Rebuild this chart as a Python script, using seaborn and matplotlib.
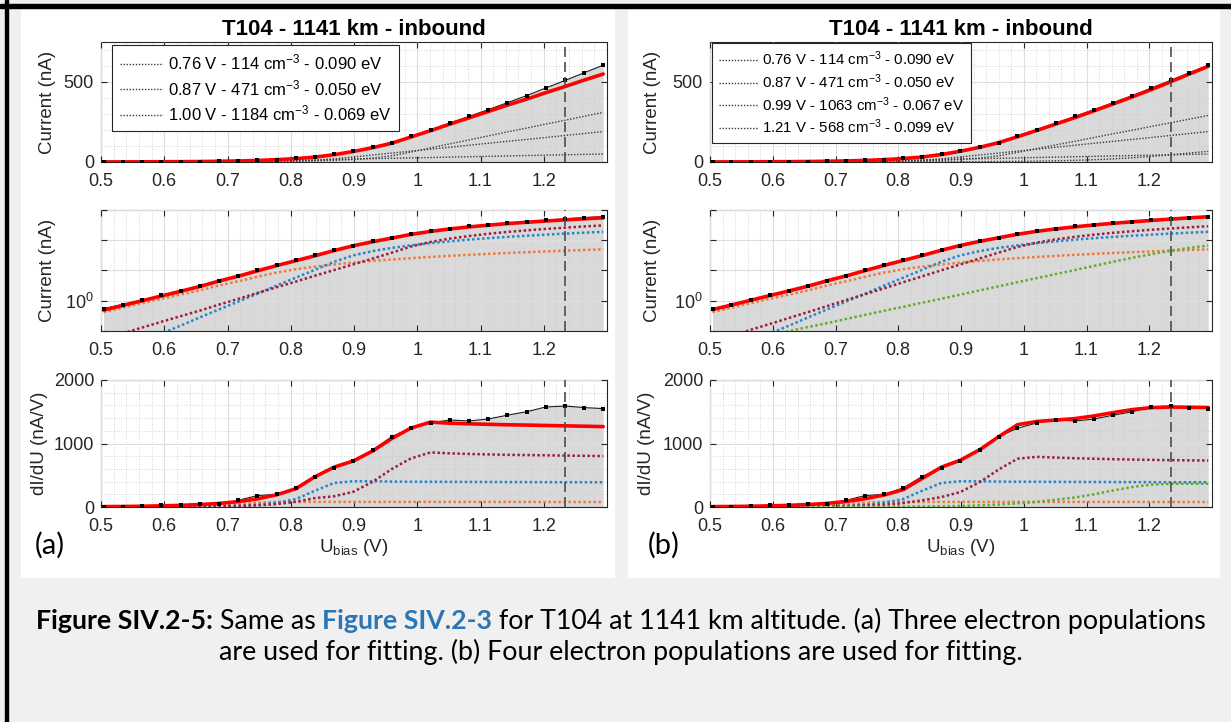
import numpy as np
import pandas as pd
import seaborn as sns
import matplotlib.pyplot as plt
from matplotlib.patches import Rectangle
from matplotlib.ticker import FixedLocator, FixedFormatter, MultipleLocator

# bias voltage sweep (V) and measured probe data
U = [0.504, 0.534, 0.565, 0.595, 0.626, 0.656, 0.686, 0.717, 0.747, 0.778, 0.808, 0.838, 0.869, 0.899,
     0.930, 0.960, 0.990, 1.021, 1.051, 1.082, 1.112, 1.142, 1.173, 1.203, 1.234, 1.264, 1.294]
I_meas = [0.55, 0.75, 1.05, 1.5, 2.1, 3.0, 4.4, 6.6, 10, 15, 22, 32, 47, 67,
          91, 121, 160, 201, 243, 285, 327, 370, 415, 462, 510, 558, 605]
D_meas = [0, 0, 15, 25, 35, 50, 40, 105, 180, 200, 300, 480, 620, 730,
          900, 1110, 1240, 1325, 1370, 1355, 1385, 1445, 1500, 1575, 1590, 1565, 1550]
U_mark = 1.234

# electron populations: current (nA)
I_pop1 = [0.42, 0.59, 0.83, 1.15, 1.6, 2.2, 3.2, 4.4, 6.2, 8.6, 11.0, 13.4, 15.9, 18.3,
          20.8, 23.2, 25.6, 28.1, 30.5, 33.0, 35.4, 37.8, 40.3, 42.7, 45.2, 47.6, 50.0]
I_pop2 = [0.013, 0.024, 0.045, 0.082, 0.15, 0.28, 0.51, 0.94, 1.7, 3.2, 5.8, 10.5, 19.6, 31.6,
          44, 56, 68, 80, 92, 105, 117, 129, 141, 153, 166, 178, 190]
I_pop3a = [0.054, 0.083, 0.13, 0.20, 0.31, 0.47, 0.74, 1.15, 1.8, 2.8, 4.3, 6.7, 10.4, 16,
           25, 39, 62, 88, 113, 138, 163, 188, 212, 237, 261, 286, 310]
I_pop3b = [0.044, 0.068, 0.11, 0.17, 0.27, 0.42, 0.66, 1.06, 1.64, 2.6, 4.1, 6.4, 10.2, 15.9,
           25, 39, 60, 84, 107, 130, 153, 176, 199, 222, 245, 268, 291]
I_pop4b = [0.029, 0.039, 0.053, 0.073, 0.099, 0.135, 0.18, 0.25, 0.34, 0.47, 0.63, 0.86, 1.17, 1.6,
           2.2, 3.0, 4.1, 5.6, 7.6, 10.4, 14.2, 19.4, 26.4, 34.5, 45, 56, 67]
I_fit_a = [0.49, 0.70, 1.0, 1.43, 2.06, 2.95, 4.45, 6.5, 9.7, 14.6, 21.1, 30.6, 45.9, 65.9,
           89.8, 118, 156, 196, 236, 276, 315, 355, 393, 433, 472, 512, 550]
I_fit_b = [0.51, 0.72, 1.04, 1.48, 2.12, 3.04, 4.55, 6.65, 9.9, 14.9, 21.5, 31.2, 46.9, 67.4,
           92, 121, 158, 198, 237, 278, 320, 362, 407, 452, 501, 550, 598]

# electron populations: dI/dU (nA/V)
D_pop1 = [5, 6.5, 9, 13, 18, 25, 35, 49, 68, 80, 80, 80, 80, 80,
          80, 80, 80, 80, 80, 80, 80, 80, 80, 79, 79, 79, 78]
D_pop2 = [0.3, 0.5, 0.9, 1.6, 3, 5.6, 10, 19, 34, 68, 125, 255, 380, 405,
          405, 400, 398, 397, 396, 395, 394, 393, 392, 391, 390, 390, 390]
D_pop3a = [0.8, 1.2, 1.9, 3, 4.5, 7, 11, 17, 26, 45, 83, 140, 170, 240,
           400, 600, 765, 860, 845, 835, 828, 822, 818, 814, 810, 806, 802]
D_pop3b = [0.7, 1, 1.6, 2.5, 4, 6, 10, 16, 25, 37, 63, 105, 157, 236,
           393, 590, 760, 790, 778, 768, 760, 753, 747, 742, 738, 735, 732]
D_pop4b = [0.3, 0.4, 0.5, 0.7, 1, 1.4, 1.8, 2.5, 3.4, 4.7, 6.4, 8.7, 12, 16,
           25, 37, 58, 80, 115, 150, 200, 260, 315, 352, 366, 366, 366]
D_fit_a = [6, 8, 12, 18, 26, 38, 56, 85, 128, 193, 288, 475, 630, 725,
           885, 1080, 1243, 1337, 1320, 1310, 1302, 1295, 1290, 1284, 1278, 1272, 1266]
D_fit_b = [6, 8, 12, 18, 26, 38, 57, 87, 130, 190, 274, 449, 629, 737,
           903, 1107, 1296, 1347, 1369, 1393, 1434, 1486, 1534, 1565, 1574, 1571, 1567]

labels_a = ['0.76 V - 114 cm$^{-3}$ - 0.090 eV', '0.87 V - 471 cm$^{-3}$ - 0.050 eV',
            '1.00 V - 1184 cm$^{-3}$ - 0.069 eV']
labels_b = ['0.76 V - 114 cm$^{-3}$ - 0.090 eV', '0.87 V - 471 cm$^{-3}$ - 0.050 eV',
            '0.99 V - 1063 cm$^{-3}$ - 0.067 eV', '1.21 V - 568 cm$^{-3}$ - 0.099 eV']
x_ticks = [0.5, 0.6, 0.7, 0.8, 0.9, 1.0, 1.1, 1.2]
x_ticklabels = ['0.5', '0.6', '0.7', '0.8', '0.9', '1', '1.1', '1.2']
title = 'T104 - 1141 km - inbound'

pop_colors = ['#f2773a', '#2386cf', '#9e1d3a', '#62ad2c']
AX_COLOR = '#262626'
FILL = '#d9d9d9'

sns.set_theme(style="ticks")
plt.rcParams['font.family'] = ['Liberation Sans', 'DejaVu Sans']
plt.rcParams['mathtext.fontset'] = 'custom'
plt.rcParams['mathtext.rm'] = 'Liberation Sans'
plt.rcParams['mathtext.it'] = 'Liberation Sans:italic'
plt.rcParams['mathtext.bf'] = 'Liberation Sans:bold'

W, H = 1231, 722
fig = plt.figure(figsize=(W / 100, H / 100), dpi=100, facecolor='#f0f0f0')


def box(x0, x1, y0, y1):
    return [x0 / W, 1 - y1 / H, (x1 - x0) / W, (y1 - y0) / H]


# page decorations, kept behind the axes
fig.patches.append(Rectangle((0, 1 - 8 / H), 1, 4 / H, transform=fig.transFigure, color='black', zorder=-10))
fig.patches.append(Rectangle((5 / W, 0), 3 / W, 1, transform=fig.transFigure, color='black', zorder=-10))
for x0, x1 in [(21, 614), (628, 1219)]:
    fig.patches.append(Rectangle((x0 / W, 1 - 577 / H), (x1 - x0) / W, 567 / H,
                                 transform=fig.transFigure, color='white', zorder=-10))

COL_X = [(101, 607), (710, 1212)]
ROW_Y = [(42, 162), (210, 331), (380, 507)]


def style_axis(ax):
    ax.set_xlim(0.5, 1.3)
    ax.xaxis.set_major_locator(FixedLocator(x_ticks))
    ax.xaxis.set_major_formatter(FixedFormatter(x_ticklabels))
    ax.xaxis.set_minor_locator(MultipleLocator(0.02))
    for s in ax.spines.values():
        s.set_visible(True)
        s.set_color(AX_COLOR)
        s.set_linewidth(0.8)
    ax.tick_params(which='major', direction='in', top=True, right=True, length=4,
                   width=0.8, color=AX_COLOR, labelcolor=AX_COLOR, labelsize=13)
    ax.tick_params(axis='x', which='major', pad=8)
    ax.tick_params(axis='y', which='major', pad=5)
    ax.tick_params(which='minor', length=0)
    ax.set_axisbelow(False)
    ax.grid(which='major', color='#dedede', lw=0.8, zorder=2)
    ax.grid(which='minor', color='#c8c8c8', lw=0.6, ls=(0, (1, 2)), zorder=2)
    ax.set_facecolor('white')


def draw_column(col, pops_I, pops_D, fit_I, fit_D, labels, colors, leg_fs, leg_anchor, leg_space, tag):
    x0, x1 = COL_X[col]
    axes = [fig.add_axes(box(x0, x1, y0, y1)) for y0, y1 in ROW_Y]
    ax_lin, ax_log, ax_d = axes
    ax_log.set_yscale('log')

    # top: linear current
    ax_lin.fill_between(U, 0, I_meas, color=FILL, lw=0, zorder=1)
    for vals, lab in zip(pops_I, labels):
        sns.lineplot(x=U, y=vals, ax=ax_lin, color='#3a3a3a', lw=1.0, linestyle=(0, (1, 1.2)),
                     label=lab, zorder=3)
    # middle: log current
    ax_log.fill_between(U, 1e-3, I_meas, color=FILL, lw=0, zorder=1)
    for vals, c in zip(pops_I, colors):
        sns.lineplot(x=U, y=vals, ax=ax_log, color=c, lw=1.8, linestyle=(0, (1, 1)), zorder=3)
    # bottom: derivative
    ax_d.fill_between(U, 0, D_meas, color=FILL, lw=0, zorder=1)
    for vals, c in zip(pops_D, colors):
        sns.lineplot(x=U, y=vals, ax=ax_d, color=c, lw=1.8, linestyle=(0, (1, 1)), zorder=3)

    for ax, meas, fit in [(ax_lin, I_meas, fit_I), (ax_log, I_meas, fit_I), (ax_d, D_meas, fit_D)]:
        sns.lineplot(x=U, y=meas, ax=ax, color='#1a1a1a', lw=0.8, zorder=4)
        sns.lineplot(x=U, y=fit, ax=ax, color='#ff0000', lw=2.6, zorder=5)
        sns.scatterplot(x=U, y=meas, ax=ax, color='black', s=6, marker='s', lw=0, zorder=6)
        ax.axvline(U_mark, color='#4d4d4d', lw=1.2, ls=(0, (6, 3)), zorder=7)
        style_axis(ax)

    ax_lin.set_ylim(0, 750)
    ax_lin.yaxis.set_major_locator(FixedLocator([0, 500]))
    ax_lin.yaxis.set_minor_locator(MultipleLocator(100))
    ax_log.set_ylim(0.1, 1000)
    ax_log.yaxis.set_major_locator(FixedLocator([0.1, 1, 10, 100, 1000]))
    ax_log.yaxis.set_major_formatter(FixedFormatter(['', r'$\mathregular{10^0}$', '', '', '']))
    ax_log.yaxis.set_minor_locator(FixedLocator([]))
    ax_d.set_ylim(0, 2000)
    ax_d.yaxis.set_major_locator(FixedLocator([0, 1000, 2000]))
    ax_d.yaxis.set_minor_locator(MultipleLocator(200))

    lab_x = -0.088 if col == 0 else -0.097
    for ax, txt in [(ax_lin, 'Current (nA)'), (ax_log, 'Current (nA)'), (ax_d, 'dI/dU (nA/V)')]:
        ax.set_ylabel(txt, fontsize=13.5, color=AX_COLOR)
        ax.yaxis.set_label_coords(lab_x, 0.5)
        ax.set_xlabel('')
    ax_d.yaxis.set_label_coords(-0.104 if col == 0 else -0.11, 0.5)
    ax_d.set_xlabel(r'U$_{\mathregular{bias}}$ (V)', fontsize=13.5, color=AX_COLOR, labelpad=1)
    ax_lin.set_title(title, fontsize=16, fontweight='bold', color='black', pad=5)

    leg = ax_lin.legend(loc='upper left', bbox_to_anchor=leg_anchor, borderaxespad=0,
                        fontsize=leg_fs, frameon=True, fancybox=False, framealpha=1,
                        edgecolor=AX_COLOR, facecolor='white', handlelength=2.6,
                        handletextpad=0.3, labelspacing=leg_space, borderpad=0.45)
    leg.get_frame().set_linewidth(0.8)
    leg.set_zorder(10)
    for t in leg.get_texts():
        t.set_color('black')

    fig.text((50 if col == 0 else 664) / W, 1 - 545 / H, tag, family=['Lato', 'DejaVu Sans'],
             fontsize=21, ha='center', va='center', color='black')


draw_column(0, [I_pop1, I_pop2, I_pop3a], [D_pop1, D_pop2, D_pop3a], I_fit_a, D_fit_a,
            labels_a, pop_colors[:3], 12, (0.022, 0.975), 0.35, '(a)')
draw_column(1, [I_pop1, I_pop2, I_pop3b, I_pop4b], [D_pop1, D_pop2, D_pop3b, D_pop4b], I_fit_b, D_fit_b,
            labels_b, pop_colors, 10.8, (0.004, 0.995), 0.28, '(b)')

# caption with mixed styles, centred line by line
cap_lines = [
    [('Figure SIV.2-5:', 'bold', 'black'), (' Same as ', 'normal', 'black'),
     ('Figure SIV.2-3', 'bold', '#2e75b6'),
     (' for T104 at 1141 km altitude. (a) Three electron populations', 'normal', 'black')],
    [('are used for fitting. (b) Four electron populations are used for fitting.', 'normal', 'black')],
]
cap_y = [629, 660]
renderer = fig.canvas.get_renderer()
CAP_FONT = ['Lato', 'DejaVu Sans']


def text_width(s, weight, fs):
    t1 = fig.text(0, 0, 'x' + s + 'x', family=CAP_FONT, fontweight=weight, fontsize=fs)
    t2 = fig.text(0, 0, 'xx', family=CAP_FONT, fontweight=weight, fontsize=fs)
    w = t1.get_window_extent(renderer).width - t2.get_window_extent(renderer).width
    t1.remove()
    t2.remove()
    return w


base_fs = 15
w_line1 = sum(text_width(s, wt, base_fs) for s, wt, c in cap_lines[0])
cap_fs = base_fs * 1173 / w_line1
for pieces, yb in zip(cap_lines, cap_y):
    widths = [text_width(s, wt, cap_fs) for s, wt, c in pieces]
    x = 621 - sum(widths) / 2
    for (s, wt, c), w in zip(pieces, widths):
        fig.text(x / W, 1 - yb / H, s, family=CAP_FONT, fontweight=wt, fontsize=cap_fs,
                 color=c, va='baseline', ha='left')
        x += w

fig.savefig('out.png', dpi=100, facecolor=fig.get_facecolor())
